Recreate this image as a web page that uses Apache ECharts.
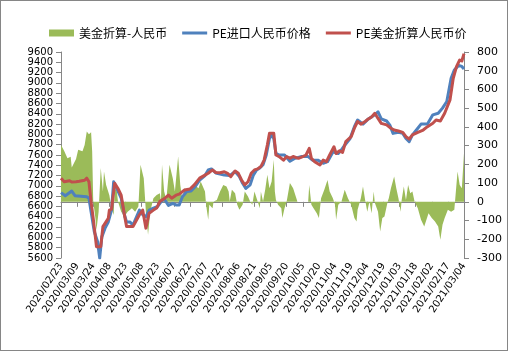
<!DOCTYPE html>
<html><head><meta charset="utf-8">
<script src="https://cdn.jsdelivr.net/npm/echarts@6/dist/echarts.min.js"></script>
<style>
html,body{margin:0;padding:0;background:#fff}
#wrap{position:relative;width:508px;height:351px}
#c{width:508px;height:351px}
#frame{position:absolute;left:0;top:0;width:508px;height:351px;box-sizing:border-box;border:1px solid #868686;pointer-events:none}
</style>
</head><body><div id="wrap"><div id="c"></div><div id="frame"></div></div>
<script>
// Daily categories 2020/02/23 .. 2021/03/04 (label every 15 days)
const startYMD = [2020, 1, 23];
const dayCount = 376;

// 美金折算-人民币 (right axis): day offsets and values
const diffDays = [0,3,6,9,10,14,16,20,22,24,26,28,29,30,32,33,35,37,39,40,42,45,47,49,50,52,53,56,59,62,66,69,72,74,77,79,81,83,86,89,92,93,94,96,98,101,104,106,109,111,113,115,118,121,124,128,130,134,135,137,138,141,142,145,148,151,154,156,157,159,162,164,166,169,171,174,176,178,180,183,185,186,188,190,192,194,196,198,199,200,202,205,206,208,210,213,216,219,220,230,231,233,235,238,240,242,245,248,250,253,255,256,258,261,264,267,270,273,275,276,279,281,283,285,287,289,291,292,295,297,299,301,304,305,307,310,312,314,316,317,319,321,323,325,327,329,332,335,338,342,345,348,351,353,355,357,360,363,366,369,371,373,375];
const diffVals = [304,272,233,240,183,228,278,270,304,375,361,372,270,2,-87,-150,-53,180,55,162,90,35,-34,-70,72,55,2,-53,-78,-53,-34,-53,-25,198,126,-53,-176,-53,19,37,46,2,198,55,10,198,126,55,242,90,10,72,55,82,90,72,108,55,-16,-96,-16,-34,2,10,55,90,82,55,2,64,46,-16,-43,-16,55,28,2,-16,55,2,-34,55,2,64,144,72,108,224,55,10,-16,-34,-87,-34,2,100,72,19,0,0,90,-16,-34,-61,-87,19,64,117,55,19,-16,-96,-16,2,64,19,-16,-87,-105,-43,19,82,10,-53,2,-61,55,-5,-53,-158,-87,-78,2,19,72,135,72,19,-53,10,82,10,90,46,55,2,-34,-96,-132,-61,-87,-105,-132,-203,-123,-87,-43,-53,-43,162,90,72,260];

// PE进口人民币价格 (left axis)
const cnyDays = [0,4,10,13,24,26,28,31,34,36,38,41,44,47,49,53,56,59,61,64,67,73,76,79,82,86,90,93,96,100,104,107,110,113,117,121,125,129,134,137,140,144,152,157,162,166,169,172,176,179,182,185,188,191,194,196,198,200,203,208,213,217,224,230,234,239,244,248,253,258,261,264,269,273,276,281,286,292,295,298,303,306,309,314,318,321,324,327,332,335,341,346,351,355,359,363,366,370,373,375];
const cnyVals = [6870,6810,6900,6810,6790,6760,6500,6110,5920,5600,6010,6180,6300,6530,7080,6900,6760,6440,6300,6300,6240,6530,6440,6400,6530,6570,6600,6690,6750,6620,6660,6630,6630,6790,6890,6900,6990,7110,7200,7310,7330,7250,7210,7200,7280,7180,7050,6950,7020,7210,7310,7350,7410,7600,7920,7990,7920,7630,7600,7600,7480,7530,7570,7570,7500,7500,7440,7470,7660,7630,7700,7790,7920,8150,8280,8200,8300,8380,8440,8300,8260,8180,8020,8040,8020,7920,7860,7990,8120,8200,8200,8380,8410,8510,8640,9090,9250,9340,9320,9270];

// PE美金折算人民币价 (left axis)
const usdDays = [0,3,8,10,14,17,22,24,26,28,30,33,37,39,44,45,47,50,53,56,59,61,67,73,76,79,82,86,89,92,96,100,103,107,110,115,120,124,129,134,137,141,144,148,152,155,158,162,165,168,171,174,177,180,183,186,189,192,194,198,200,203,207,210,213,216,221,225,228,231,233,236,241,244,247,250,254,256,259,262,265,270,273,276,279,283,286,289,292,295,298,303,307,310,314,318,321,324,327,332,337,341,346,349,353,357,362,365,368,371,373,375];
const usdVals = [7150,7080,7100,7075,7080,7090,7110,7150,7080,6690,6370,5820,5820,6210,6370,6530,6550,7050,6950,6820,6440,6210,6210,6440,6530,6180,6470,6530,6570,6700,6750,6820,6760,6820,6840,6920,6940,7020,7150,7210,7245,7310,7260,7255,7275,7245,7180,7290,7245,7115,7020,7080,7245,7310,7330,7375,7500,7795,8020,8020,7600,7570,7500,7570,7535,7570,7535,7570,7600,7730,7535,7470,7405,7500,7470,7600,7760,7630,7680,7650,7860,7955,8120,8250,8200,8250,8300,8340,8410,8310,8215,8185,8120,8085,8065,8040,7955,7910,7990,8040,8085,8150,8215,8280,8260,8410,8670,9090,9315,9445,9425,9570];

const leftTicks = {min: 5600, max: 9600, interval: 200};
const rightTicks = {min: -300, max: 800, interval: 100};

const cats = [];
const t0 = Date.UTC(startYMD[0], startYMD[1], startYMD[2]);
for (let i = 0; i < dayCount; i++) {
  const d = new Date(t0 + i * 86400000);
  cats.push(d.getUTCFullYear() + '/' + String(d.getUTCMonth() + 1).padStart(2, '0') + '/' + String(d.getUTCDate()).padStart(2, '0'));
}
const pairs = (ds, vs) => ds.map((d, i) => [d, vs[i]]);

const axisFont = {fontFamily: 'DejaVu Sans', fontSize: 10, color: '#000'};
const lineIcon = 'path://M0,0H25V3H0Z';
const chart = echarts.init(document.getElementById('c'), null, {renderer: 'canvas'});
chart.setOption({
  animation: false,
  backgroundColor: '#fff',
  textStyle: {fontFamily: 'Noto Sans CJK SC'},
  grid: {left: 61, right: 44, top: 52, bottom: 93, containLabel: false, outerBoundsMode: 'none'},
  legend: {
    left: 44, top: 22, itemWidth: 25, itemHeight: 7, itemGap: 15,
    textStyle: {fontFamily: 'Noto Sans CJK SC', fontSize: 12, color: '#000'},
    data: [
      {name: '美金折算-人民币', icon: 'rect'},
      {name: 'PE进口人民币价格', icon: lineIcon},
      {name: 'PE美金折算人民币价', icon: lineIcon}
    ]
  },
  xAxis: {
    type: 'category', data: cats, boundaryGap: false,
    axisLine: {lineStyle: {color: '#868686', width: 1}},
    axisTick: {interval: 14, length: 5, lineStyle: {color: '#868686'}},
    axisLabel: Object.assign({interval: 14, rotate: 56, margin: 6}, axisFont),
    splitLine: {show: false}
  },
  yAxis: [
    Object.assign({type: 'value', position: 'left',
      axisLine: {show: true, lineStyle: {color: '#868686'}},
      axisTick: {show: true, length: 5, lineStyle: {color: '#868686'}},
      axisLabel: Object.assign({margin: 8, formatter: v => String(v)}, axisFont),
      splitLine: {show: false}}, leftTicks),
    Object.assign({type: 'value', position: 'right',
      axisLine: {show: true, lineStyle: {color: '#868686'}},
      axisTick: {show: true, length: 5, lineStyle: {color: '#868686'}},
      axisLabel: Object.assign({margin: 13, formatter: v => String(v)}, axisFont, {fontSize: 11}),
      splitLine: {show: false}}, rightTicks)
  ],
  series: [
    {name: '美金折算-人民币', type: 'line', yAxisIndex: 1, data: pairs(diffDays, diffVals),
      symbol: 'none', lineStyle: {width: 0}, itemStyle: {color: '#9BBB59'},
      areaStyle: {color: '#9BBB59', opacity: 1}},
    {name: 'PE进口人民币价格', type: 'line', yAxisIndex: 0, data: pairs(cnyDays, cnyVals),
      symbol: 'none', itemStyle: {color: '#4F81BD'}, lineStyle: {width: 3, color: '#4F81BD', join: 'round'}},
    {name: 'PE美金折算人民币价', type: 'line', yAxisIndex: 0, data: pairs(usdDays, usdVals),
      symbol: 'none', itemStyle: {color: '#C0504D'}, lineStyle: {width: 3, color: '#C0504D', join: 'round'}}
  ]
});
</script></body></html>
